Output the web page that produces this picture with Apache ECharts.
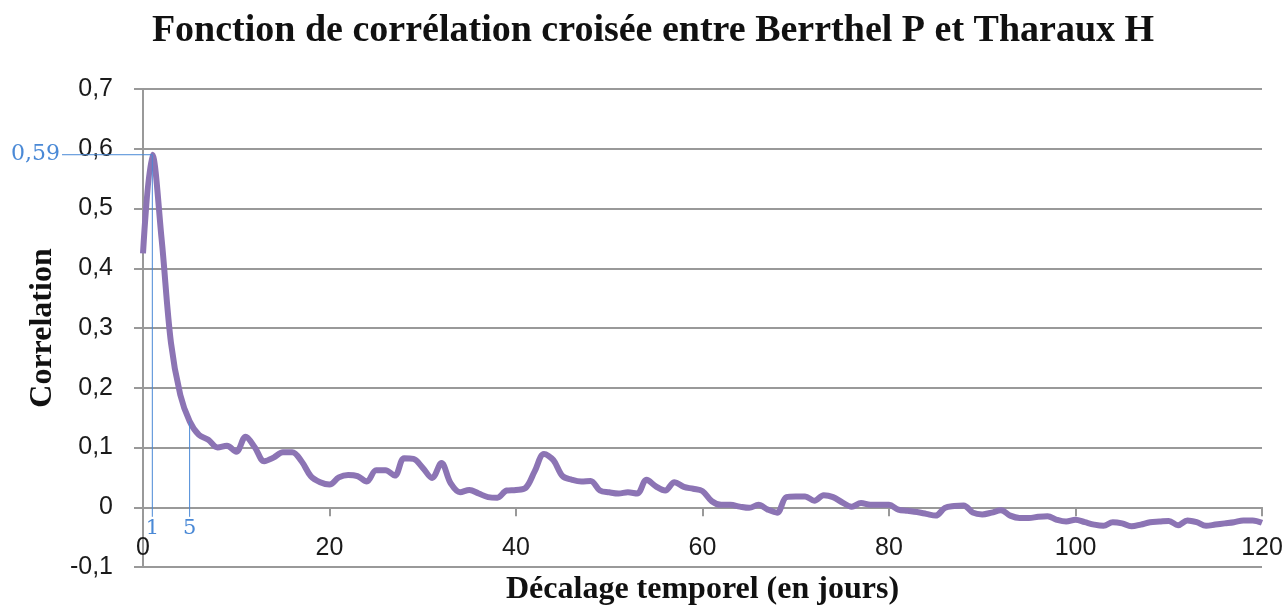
<!DOCTYPE html>
<html>
<head>
<meta charset="utf-8">
<script src="https://cdn.jsdelivr.net/npm/echarts@6/dist/echarts.min.js"></script>
<style>
  html, body { margin: 0; padding: 0; background: #fff; }
  #chart { width: 1288px; height: 607px; }
</style>
</head>
<body>
<div id="chart"></div>
<script>
// Cross-correlation between the two series, lag in days (0..120)
const correlation = [
  0.425, 0.590, 0.448, 0.275, 0.188, 0.144, 0.121, 0.113, 0.100, 0.103,
  0.093, 0.118, 0.100, 0.077, 0.083, 0.092, 0.092, 0.077, 0.052, 0.042,
  0.038, 0.050, 0.054, 0.052, 0.043, 0.062, 0.062, 0.053, 0.082, 0.081,
  0.066, 0.049, 0.074, 0.040, 0.025, 0.029, 0.023, 0.017, 0.016, 0.028,
  0.029, 0.032, 0.060, 0.089, 0.079, 0.052, 0.046, 0.043, 0.044, 0.028,
  0.025, 0.023, 0.025, 0.023, 0.046, 0.035, 0.028, 0.042, 0.034, 0.031,
  0.027, 0.010, 0.004, 0.004, 0.001, -0.001, 0.004, -0.004, -0.009, 0.017,
  0.018, 0.018, 0.011, 0.020, 0.017, 0.008, 0.001, 0.007, 0.004, 0.004,
  0.004, -0.004, -0.006, -0.008, -0.011, -0.014, -0.001, 0.002, 0.003, -0.009,
  -0.012, -0.009, -0.005, -0.014, -0.018, -0.018, -0.016, -0.015, -0.021, -0.024,
  -0.021, -0.025, -0.029, -0.031, -0.025, -0.027, -0.032, -0.029, -0.025, -0.024,
  -0.023, -0.030, -0.022, -0.025, -0.031, -0.029, -0.027, -0.025, -0.022, -0.022,
  -0.026
];
const lags = correlation.map((_, i) => i);

// Axis ranges and ticks
const lagTicks = [0, 20, 40, 60, 80, 100, 120];
const corrTicks = [-0.1, 0, 0.1, 0.2, 0.3, 0.4, 0.5, 0.6, 0.7];

// Annotated lags and the peak value
const markedLags = [1, 5];
const peakValue = 0.59;

const comma = v => String(+(+v).toFixed(2)).replace('.', ',');
const BLUE = '#4a89d6';
const GRID = '#999999';
const SERIF_BOLD = '"Liberation Serif", "Times New Roman", serif';
const ANNOT_FONT = '"DejaVu Serif", serif';

const curve = lags.map((x, i) => [x, correlation[i]]);

// Vertical drop lines at the marked lags, from the curve level down past the zero line
const belowAxis = -0.016;
const dropLine = (lag, top) => ({
  type: 'line', clip: false, silent: true, z: 5,
  symbol: 'circle', symbolSize: 0, showSymbol: true,
  lineStyle: { color: BLUE, width: 1 },
  data: [
    { value: [lag, top] },
    { value: [lag, belowAxis],
      label: { show: true, position: 'bottom', distance: 1, formatter: String(lag),
               color: BLUE, fontFamily: ANNOT_FONT, fontSize: 21 } }
  ]
});

const chart = echarts.init(document.getElementById('chart'), null, { renderer: 'canvas' });
chart.setOption({
  backgroundColor: '#ffffff',
  animation: false,
  title: {
    text: 'Fonction de corrélation croisée entre Berrthel P et Tharaux H',
    left: 648, top: 7, textAlign: 'center',
    textStyle: { fontFamily: SERIF_BOLD, fontWeight: 'bold', fontSize: 38, color: '#111' }
  },
  grid: { left: 143, right: 26, top: 89, bottom: 40, containLabel: false, outerBoundsMode: 'none' },
  xAxis: {
    type: 'value',
    min: lagTicks[0], max: lagTicks[lagTicks.length - 1],
    interval: lagTicks[1] - lagTicks[0],
    name: 'Décalage temporel (en jours)',
    nameLocation: 'middle', nameGap: 7,
    nameTextStyle: { fontFamily: SERIF_BOLD, fontWeight: 'bold', fontSize: 32, color: '#111' },
    axisLine: { onZero: true, lineStyle: { color: GRID, width: 2 } },
    axisTick: { show: true, length: 9, lineStyle: { color: GRID, width: 2 } },
    axisLabel: { margin: -31, fontFamily: '"Liberation Sans", Arial, sans-serif', fontSize: 25, color: '#1a1a1a' },
    splitLine: { show: false }
  },
  yAxis: {
    type: 'value',
    min: corrTicks[0], max: corrTicks[corrTicks.length - 1],
    interval: 0.1,
    name: 'Correlation',
    nameLocation: 'middle', nameGap: 83, nameRotate: 90,
    nameTextStyle: { fontFamily: SERIF_BOLD, fontWeight: 'bold', fontSize: 32, color: '#111' },
    axisLine: { show: true, onZero: false, lineStyle: { color: GRID, width: 2 } },
    axisTick: { show: true, length: 9, lineStyle: { color: GRID, width: 2 } },
    axisLabel: {
      margin: 30, fontFamily: '"Liberation Sans", Arial, sans-serif', fontSize: 25, color: '#1a1a1a',
      formatter: v => comma(v)
    },
    splitLine: { show: true, lineStyle: { color: GRID, width: 2 } }
  },
  series: [
    {
      type: 'line',
      name: 'Correlation',
      data: curve,
      smooth: 0.35,
      showSymbol: false,
      z: 3,
      lineStyle: { color: '#8c74b4', width: 6 },
      itemStyle: { color: '#8c74b4' }
    },
    dropLine(markedLags[0], peakValue),
    dropLine(markedLags[1], correlation[markedLags[1]])
  ]
});

// Horizontal leader at the peak value, running left from the lag-1 drop line to its label
const peakPt = chart.convertToPixel({ gridIndex: 0 }, [markedLags[0], peakValue]);
const leaderEndX = 62;
chart.setOption({
  graphic: [
    { type: 'line', z: 100, silent: true,
      shape: { x1: leaderEndX, y1: peakPt[1], x2: peakPt[0], y2: peakPt[1] },
      style: { stroke: BLUE, lineWidth: 1 } },
    { type: 'text', z: 100, silent: true, x: leaderEndX - 2, y: peakPt[1],
      style: { text: comma(peakValue), fill: BLUE, font: '22px ' + ANNOT_FONT,
               align: 'right', verticalAlign: 'middle' } }
  ]
});
</script>
</body>
</html>
